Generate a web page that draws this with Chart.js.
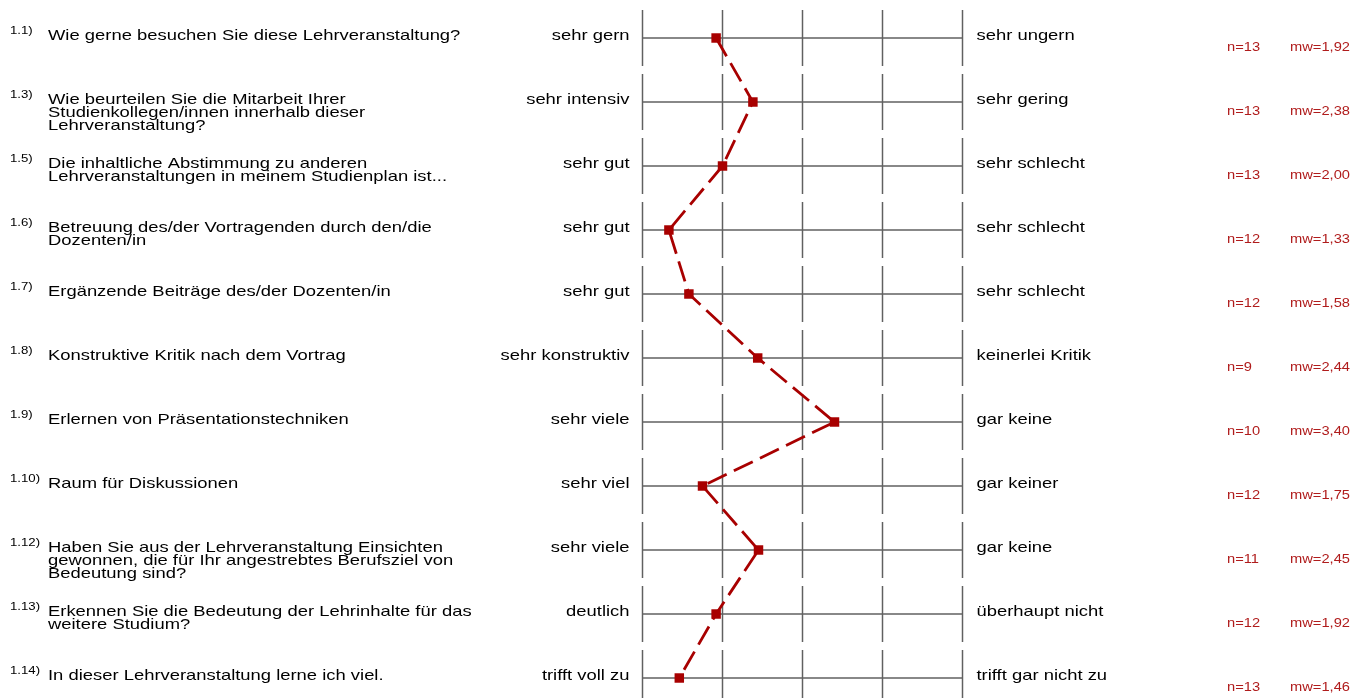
<!DOCTYPE html>
<html>
<head>
<meta charset="utf-8">
<script src="https://cdn.jsdelivr.net/npm/chart.js@4.4.0/dist/chart.umd.min.js"></script>
<style>
  html, body { margin: 0; padding: 0; background: #ffffff; }
  #wrap { width: 1353px; height: 698px; position: relative; }
</style>
</head>
<body>
<div id="wrap"><canvas id="c" width="1353" height="698"></canvas></div>
<script>
const questionNumbers = ['1.1)','1.3)','1.5)','1.6)','1.7)','1.8)','1.9)','1.10)','1.12)','1.13)','1.14)'];
const questionTexts = [
  ['Wie gerne besuchen Sie diese Lehrveranstaltung?'],
  ['Wie beurteilen Sie die Mitarbeit Ihrer','Studienkollegen/innen innerhalb dieser','Lehrveranstaltung?'],
  ['Die inhaltliche Abstimmung zu anderen','Lehrveranstaltungen in meinem Studienplan ist...'],
  ['Betreuung des/der Vortragenden durch den/die','Dozenten/in'],
  ['Ergänzende Beiträge des/der Dozenten/in'],
  ['Konstruktive Kritik nach dem Vortrag'],
  ['Erlernen von Präsentationstechniken'],
  ['Raum für Diskussionen'],
  ['Haben Sie aus der Lehrveranstaltung Einsichten','gewonnen, die für Ihr angestrebtes Berufsziel von','Bedeutung sind?'],
  ['Erkennen Sie die Bedeutung der Lehrinhalte für das','weitere Studium?'],
  ['In dieser Lehrveranstaltung lerne ich viel.']
];
const leftLabels = ['sehr gern','sehr intensiv','sehr gut','sehr gut','sehr gut','sehr konstruktiv','sehr viele','sehr viel','sehr viele','deutlich','trifft voll zu'];
const rightLabels = ['sehr ungern','sehr gering','sehr schlecht','sehr schlecht','sehr schlecht','keinerlei Kritik','gar keine','gar keiner','gar keine','überhaupt nicht','trifft gar nicht zu'];
const nValues = [13,13,13,12,12,9,10,12,11,12,13];
const meanValues = [1.92,2.38,2.00,1.33,1.58,2.44,3.40,1.75,2.45,1.92,1.46];
const scaleTicks = [1,2,3,4,5];

const points = meanValues.map((v, i) => ({ x: v, y: i }));

function stretchedText(ctx, text, x, y, align, font, color, sx) {
  ctx.save();
  ctx.font = font;
  ctx.fillStyle = color;
  ctx.textAlign = align;
  ctx.textBaseline = 'alphabetic';
  ctx.translate(x, y);
  ctx.scale(sx, 1);
  ctx.fillText(text, 0, 0);
  ctx.restore();
}

const profilePlugin = {
  id: 'profile',
  beforeDatasetsDraw(chart) {
    const ctx = chart.ctx;
    const xs = chart.scales.x, ys = chart.scales.y;
    const left = xs.getPixelForValue(1), right = xs.getPixelForValue(5);
    const half = (ys.getPixelForValue(1) - ys.getPixelForValue(0)) * 28 / 64;
    ctx.save();
    ctx.strokeStyle = '#606060';
    ctx.lineWidth = 1.5;
    meanValues.forEach((_, i) => {
      const y = ys.getPixelForValue(i);
      ctx.beginPath();
      ctx.moveTo(left, y);
      ctx.lineTo(right, y);
      ctx.stroke();
      scaleTicks.forEach(t => {
        const x = xs.getPixelForValue(t);
        ctx.beginPath();
        ctx.moveTo(x, y - half);
        ctx.lineTo(x, y + half);
        ctx.stroke();
      });
    });
    ctx.restore();

    const fMain = '15px "Liberation Sans", Arial, sans-serif';
    const fSup = '11px "Liberation Sans", Arial, sans-serif';
    const fStat = '13px "Liberation Sans", Arial, sans-serif';
    const SXM = 1.227, SXS = 1.2, SXT = 1.13;
    meanValues.forEach((v, i) => {
      const y = ys.getPixelForValue(i);
      stretchedText(ctx, questionNumbers[i], 10, y - 4, 'left', fSup, '#000', SXS);
      questionTexts[i].forEach((line, k) => {
        stretchedText(ctx, line, 48, y + 1.5 + k * 13.3, 'left', fMain, '#000', SXM);
      });
      stretchedText(ctx, leftLabels[i], left - 13, y + 1.5, 'right', fMain, '#000', SXM);
      stretchedText(ctx, rightLabels[i], right + 14, y + 1.5, 'left', fMain, '#000', SXM);
      stretchedText(ctx, 'n=' + nValues[i], 1227, y + 13, 'left', fStat, '#b01c1c', SXT);
      stretchedText(ctx, 'mw=' + v.toFixed(2).replace('.', ','), 1290, y + 13, 'left', fStat, '#b01c1c', SXT);
    });
  }
};

new Chart(document.getElementById('c'), {
  type: 'scatter',
  data: {
    datasets: [{
      data: points,
      showLine: true,
      borderColor: '#a80000',
      borderWidth: 2.8,
      borderDash: [21, 8],
      backgroundColor: '#a80000',
      pointStyle: 'rect',
      pointRadius: 6.7,
      pointHoverRadius: 6.7,
      pointBorderWidth: 0,
      clip: false,
      tension: 0
    }]
  },
  options: {
    responsive: false,
    animation: false,
    devicePixelRatio: 1,
    layout: { autoPadding: false, padding: { left: 642.5, right: 390.5, top: 10, bottom: 0 } },
    plugins: { legend: { display: false }, tooltip: { enabled: false } },
    events: [],
    scales: {
      x: { type: 'linear', min: 1, max: 5, display: false },
      y: { type: 'linear', min: -0.4375, max: 10.3125, reverse: true, display: false }
    }
  },
  plugins: [profilePlugin]
});
</script>
</body>
</html>
